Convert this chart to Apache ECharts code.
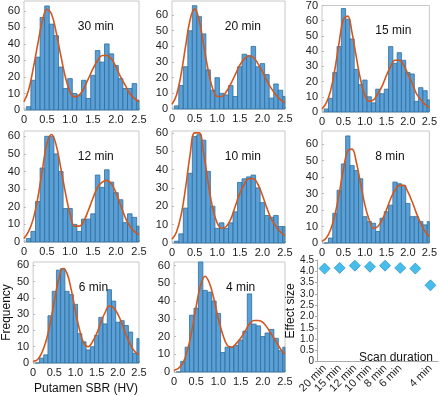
<!DOCTYPE html>
<html>
<head>
<meta charset="utf-8">
<script src="https://cdn.jsdelivr.net/npm/echarts@6/dist/echarts.min.js"></script>
<style>
  html, body { margin: 0; padding: 0; background: #fff; }
  #chart { width: 440px; height: 396px; }
</style>
</head>
<body>
<div id="chart"></div>
<script>
// bin centres of the histograms (bin width 0.1)
const binCenters = [0.1, 0.2, 0.3, 0.4, 0.5, 0.6, 0.7, 0.8, 0.9, 1.0, 1.1, 1.2, 1.3,
  1.4, 1.5, 1.6, 1.7, 1.8, 1.9, 2.0, 2.1, 2.2, 2.3, 2.4, 2.5];
// x positions where the fitted curves were read
const fitX = [0, 0.1, 0.2, 0.3, 0.4, 0.5, 0.6, 0.7, 0.8, 0.9, 1.0, 1.1, 1.2, 1.3,
  1.4, 1.5, 1.6, 1.7, 1.8, 1.9, 2.0, 2.1, 2.2, 2.3, 2.4, 2.5];

const counts30 = [2, 18, 32, 56, 63, 52, 45, 26, 13, 19, 10, 9, 18, 7, 21, 36, 29, 40, 34, 27, 19, 13, 13, 16, 6];
const counts20 = [2, 15, 27, 50, 66, 59, 48, 25, 12, 20, 10, 9, 15, 8, 27, 35, 34, 40, 27, 29, 22, 7, 16, 12, 8];
const counts15 = [2, 9, 26, 43, 68, 61, 48, 28, 18, 21, 10, 6, 15, 12, 15, 43, 32, 39, 34, 26, 25, 7, 16, 14, 8];
const counts12 = [2, 6, 23, 42, 60, 60, 50, 40, 19, 19, 10, 6, 13, 13, 16, 38, 31, 41, 34, 28, 24, 11, 16, 14, 9];
const counts10 = [1, 5, 19, 38, 58, 59, 56, 39, 20, 8, 11, 8, 11, 17, 33, 35, 36, 37, 30, 22, 15, 14, 15, 9, 9];
const counts8 = [0, 3, 18, 32, 48, 65, 47, 44, 39, 16, 13, 12, 7, 15, 19, 23, 37, 36, 35, 24, 16, 16, 13, 11, 13];
const counts6 = [0, 3, 5, 29, 44, 57, 58, 44, 42, 36, 18, 13, 8, 10, 17, 28, 24, 45, 38, 25, 26, 23, 19, 6, 15];
const counts4 = [0, 6, 14, 32, 36, 63, 46, 45, 40, 33, 11, 14, 14, 15, 18, 23, 44, 27, 26, 20, 22, 24, 19, 12, 14];

const fit30 = [5, 12, 25, 40, 54, 61, 58, 47, 33, 20, 11, 8, 9, 13, 19, 25, 30, 33, 33, 31, 26, 20, 15, 10, 7, 5];
const fit20 = [3, 9, 22, 40, 57, 64, 57, 41, 25, 13, 8, 8, 11, 16, 22, 28, 32, 34, 33, 29, 24, 18, 13, 9, 6, 4];
const fit15 = [2, 6, 14, 28, 46, 61, 63, 52, 36, 21, 11, 7, 8, 12, 17, 24, 30, 34, 34, 31, 25, 19, 12, 8, 5, 3];
const fit12 = [2, 6, 13, 25, 41, 56, 61, 55, 42, 28, 16, 9, 9, 12, 18, 25, 31, 34, 35, 33, 28, 21, 14, 9, 6, 4];
const fit10 = [2, 6, 15, 30, 48, 60, 60, 49, 33, 19, 11, 8, 9, 13, 20, 27, 32, 35, 35, 32, 26, 19, 13, 9, 6, 4];
const fit8 = [1, 3, 8, 17, 30, 45, 56, 57, 49, 36, 23, 14, 9, 10, 14, 20, 27, 32, 35, 35, 31, 25, 18, 12, 7, 4];
const fit6 = [1, 2, 6, 13, 24, 38, 51, 58, 55, 45, 32, 20, 12, 10, 13, 18, 25, 31, 35, 34, 30, 24, 17, 11, 7, 5];
const fit4 = [1, 2, 5, 12, 23, 37, 49, 54, 50, 41, 30, 21, 15, 14, 16, 19, 23, 27, 29, 29, 28, 25, 21, 17, 13, 10];

// effect size panel
const scanDurations = ['20 min', '15 min', '12 min', '10 min', '8 min', '6 min', '', '4 min'];
const effectSizes = [4.12, 4.15, 4.25, 4.2, 4.25, 4.15, 4.12, 3.38];

const font = 'Arial, "Liberation Sans", sans-serif';

const panels = [
  { title: '30 min', counts: counts30, fit: fit30, max: 66, left: 24, top: 1, width: 115, height: 109 },
  { title: '20 min', counts: counts20, fit: fit20, max: 69, left: 172, top: 1, width: 113, height: 108 },
  { title: '15 min', counts: counts15, fit: fit15, max: 70, left: 322, top: 5, width: 114, height: 107 },
  { title: '12 min', counts: counts12, fit: fit12, max: 63, left: 24, top: 131, width: 115, height: 111 },
  { title: '10 min', counts: counts10, fit: fit10, max: 61, left: 172, top: 131, width: 113, height: 112 },
  { title: '8 min', counts: counts8, fit: fit8, max: 68, left: 322, top: 131, width: 114, height: 112 },
  { title: '6 min', counts: counts6, fit: fit6, max: 62, left: 26, top: 262, width: 113, height: 110 },
  { title: '4 min', counts: counts4, fit: fit4, max: 62, left: 174, top: 262, width: 111, height: 110 },
];

const grid = [];
const xAxis = [];
const yAxis = [];
const series = [];
const titles = [];

panels.forEach((p, i) => {
  const isFirstBottom = i === 6;
  grid.push({
    left: p.left, top: p.top, width: p.width, height: p.height,
    show: true, borderColor: '#c8c8c8', borderWidth: 1, backgroundColor: '#fff',
  });
  xAxis.push({
    gridIndex: i,
    type: 'value',
    min: 0,
    max: 2.5,
    interval: 0.5,
    name: isFirstBottom ? 'Putamen SBR (HV)' : '',
    nameLocation: 'middle',
    nameGap: 20,
    nameTextStyle: { fontSize: 12, color: '#111', fontFamily: font },
    axisLine: { show: false },
    axisTick: { show: true, inside: true, length: 2, lineStyle: { color: '#bbb' } },
    splitLine: { show: false },
    axisLabel: {
      color: '#222', fontSize: 11, fontFamily: font, margin: 4,
      formatter: (v) => (v === 0 ? '0' : v.toFixed(1)),
    },
  });
  yAxis.push({
    gridIndex: i,
    type: 'value',
    min: 0,
    max: p.max,
    interval: 10,
    name: isFirstBottom ? 'Frequency' : '',
    nameLocation: 'middle',
    nameGap: 18,
    nameTextStyle: { fontSize: 12, color: '#111', fontFamily: font },
    axisLine: { show: false },
    axisTick: { show: true, inside: true, length: 2, lineStyle: { color: '#bbb' } },
    splitLine: { show: false },
    axisLabel: {
      color: '#222', fontSize: 11, fontFamily: font, margin: 4,
      showMaxLabel: p.max % 10 === 0,
    },
  });
  series.push({
    type: 'custom',
    xAxisIndex: i,
    yAxisIndex: i,
    data: binCenters.map((x, k) => [x, p.counts[k]]),
    renderItem: (params, api) => {
      const x = api.value(0);
      const y = api.value(1);
      const p0 = api.coord([x - 0.05, y]);
      const p1 = api.coord([x + 0.05, 0]);
      const rect = echarts.graphic.clipRectByRect(
        { x: p0[0], y: p0[1], width: p1[0] - p0[0], height: p1[1] - p0[1] },
        params.coordSys
      );
      if (!rect) return null;
      return {
        type: 'rect',
        shape: rect,
        style: { fill: '#5a9fd6', stroke: '#2f6e9c', lineWidth: 0.8 },
      };
    },
    z: 2,
  });
  series.push({
    type: 'line',
    xAxisIndex: i,
    yAxisIndex: i,
    data: fitX.map((x, k) => [x, p.fit[k]]),
    smooth: 0.4,
    showSymbol: false,
    lineStyle: { color: '#d2571e', width: 1.6 },
    z: 3,
  });
  titles.push({
    text: p.title,
    left: p.left + p.width * 0.45 - 3,
    top: p.top + 15,
    textStyle: { fontSize: 12, fontWeight: 'normal', color: '#111', fontFamily: font },
  });
});

// effect size scatter
grid.push({ left: 317, top: 260, width: 121, height: 102 });
xAxis.push({
  gridIndex: 8,
  type: 'category',
  data: scanDurations,
  boundaryGap: true,
  axisLine: { show: true, lineStyle: { color: '#aaa' } },
  axisTick: { show: false },
  axisLabel: {
    rotate: 45, interval: 0, color: '#222', fontSize: 11, fontFamily: font, margin: 5,
  },
});
yAxis.push({
  gridIndex: 8,
  type: 'value',
  min: 0,
  max: 4.5,
  interval: 0.5,
  name: 'Effect size',
  nameLocation: 'middle',
  nameGap: 20,
  nameMoveOverlap: false,
  nameTextStyle: { fontSize: 12, color: '#111', fontFamily: font },
  axisLine: { show: true, lineStyle: { color: '#aaa' } },
  axisTick: { show: true, length: 2, lineStyle: { color: '#aaa' } },
  splitLine: { show: false },
  axisLabel: {
    color: '#222', fontSize: 10, fontFamily: font, margin: 3,
    formatter: (v) => (v === 0 ? '0' : v.toFixed(1)),
  },
});
series.push({
  type: 'scatter',
  xAxisIndex: 8,
  yAxisIndex: 8,
  data: effectSizes,
  symbol: 'diamond',
  symbolSize: 11,
  itemStyle: { color: '#1aace6', borderColor: '#118bc4', borderWidth: 0.8 },
});
titles.push({
  text: 'Scan duration',
  right: 2,
  top: 347,
  textStyle: { fontSize: 12, fontWeight: 'normal', color: '#111', fontFamily: font },
});

const chart = echarts.init(document.getElementById('chart'));
chart.setOption({
  animation: false,
  backgroundColor: '#fff',
  title: titles,
  grid: grid,
  xAxis: xAxis,
  yAxis: yAxis,
  series: series,
});
</script>
</body>
</html>
